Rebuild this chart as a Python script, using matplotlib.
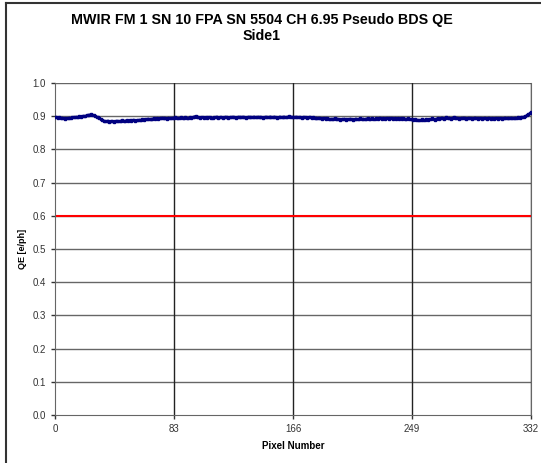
import numpy as np
import matplotlib.pyplot as plt
from matplotlib.lines import Line2D

plt.rcParams['font.family'] = ['Liberation Sans', 'DejaVu Sans']

# QE per pixel (pixels 0..332)
qe = [
    0.897, 0.898, 0.896, 0.897, 0.895, 0.896, 0.894, 0.893, 0.895, 0.894,
    0.896, 0.895, 0.897, 0.898, 0.897, 0.899, 0.898, 0.900, 0.899, 0.901,
    0.902, 0.901, 0.903, 0.904, 0.905, 0.906, 0.905, 0.904, 0.902, 0.899,
    0.897, 0.895, 0.891, 0.889, 0.887, 0.886, 0.885, 0.887, 0.884, 0.885,
    0.886, 0.884, 0.885, 0.887, 0.886, 0.885, 0.887, 0.888, 0.886, 0.887,
    0.888, 0.886, 0.889, 0.887, 0.888, 0.890, 0.887, 0.889, 0.888, 0.890,
    0.889, 0.891, 0.890, 0.892, 0.891, 0.893, 0.892, 0.891, 0.893, 0.894,
    0.892, 0.894, 0.893, 0.895, 0.894, 0.896, 0.894, 0.895, 0.893, 0.896,
    0.895, 0.894, 0.896, 0.895, 0.897, 0.896, 0.894, 0.896, 0.897, 0.895,
    0.896, 0.898, 0.896, 0.895, 0.897, 0.896, 0.898, 0.899, 0.901, 0.899,
    0.897, 0.896, 0.898, 0.897, 0.895, 0.897, 0.896, 0.898, 0.897, 0.895,
    0.896, 0.898, 0.897, 0.899, 0.896, 0.897, 0.898, 0.896, 0.897, 0.899,
    0.897, 0.896, 0.898, 0.897, 0.899, 0.898, 0.896, 0.897, 0.899, 0.898,
    0.897, 0.899, 0.898, 0.896, 0.897, 0.899, 0.898, 0.897, 0.898, 0.899,
    0.897, 0.898, 0.899, 0.897, 0.898, 0.896, 0.897, 0.899, 0.898, 0.897,
    0.899, 0.898, 0.897, 0.899, 0.898, 0.896, 0.898, 0.899, 0.897, 0.898,
    0.899, 0.897, 0.898, 0.900, 0.898, 0.899, 0.898, 0.897, 0.899, 0.898,
    0.897, 0.898, 0.896, 0.897, 0.898, 0.897, 0.896, 0.897, 0.898, 0.896,
    0.897, 0.895, 0.896, 0.894, 0.896, 0.895, 0.893, 0.895, 0.894, 0.892,
    0.894, 0.893, 0.891, 0.893, 0.892, 0.894, 0.891, 0.893, 0.892, 0.890,
    0.892, 0.891, 0.893, 0.890, 0.892, 0.891, 0.893, 0.892, 0.890, 0.892,
    0.893, 0.891, 0.892, 0.894, 0.892, 0.893, 0.891, 0.893, 0.894, 0.892,
    0.893, 0.895, 0.893, 0.892, 0.894, 0.893, 0.895, 0.894, 0.892, 0.894,
    0.893, 0.895, 0.894, 0.893, 0.895, 0.894, 0.892, 0.894, 0.893, 0.894,
    0.892, 0.894, 0.893, 0.895, 0.893, 0.892, 0.894, 0.893, 0.891, 0.892,
    0.890, 0.891, 0.889, 0.890, 0.888, 0.889, 0.891, 0.889, 0.890, 0.892,
    0.890, 0.892, 0.891, 0.894, 0.892, 0.890, 0.893, 0.895, 0.892, 0.894,
    0.896, 0.893, 0.895, 0.897, 0.894, 0.896, 0.893, 0.895, 0.897, 0.894,
    0.896, 0.895, 0.893, 0.895, 0.894, 0.896, 0.895, 0.893, 0.895, 0.894,
    0.895, 0.893, 0.894, 0.896, 0.894, 0.893, 0.895, 0.894, 0.893, 0.895,
    0.894, 0.893, 0.895, 0.894, 0.892, 0.894, 0.893, 0.895, 0.894, 0.893,
    0.894, 0.895, 0.893, 0.894, 0.896, 0.894, 0.895, 0.894, 0.896, 0.895,
    0.894, 0.896, 0.895, 0.897, 0.896, 0.898, 0.897, 0.899, 0.901, 0.903,
    0.906, 0.909, 0.912,
]
pixels = np.arange(len(qe))
limit = 0.6
xticks = [0, 83, 166, 249, 332]
yticks = np.round(np.arange(0, 1.01, 0.1), 1)

fig = plt.figure(figsize=(5.41, 4.63), dpi=100)
ax = fig.add_axes([55/541, 1 - 415/463, 476/541, 332/463])

# frame around the chart (only left and top edges are visible)
fig.add_artist(Line2D([6/541, 6/541], [0, 1 - 3/463], color='#333333', lw=1.5))
fig.add_artist(Line2D([6/541, 1], [1 - 3/463, 1 - 3/463], color='#333333', lw=1.5))

for y in yticks[1:]:
    ax.axhline(y, color='#666666', lw=1.0, zorder=1)
for x in xticks[1:]:
    ax.axvline(x, color='#222222', lw=1.0, zorder=1)

ax.axhline(limit, color='red', lw=1.5, zorder=2)
ax.plot(pixels, qe, color='#000080', lw=1.2, marker='s', ms=1.8, zorder=3)

ax.set_xlim(0, 332)
ax.set_ylim(0, 1.0)
ax.set_xticks(xticks)
ax.set_yticks(yticks)
ax.set_yticklabels([f'{v:.1f}' for v in yticks])
ax.tick_params(labelsize=7, colors='#333333', length=3, width=1)
ax.spines['top'].set_visible(False)
for s in ['left', 'bottom', 'right']:
    ax.spines[s].set_color('#666666')

ax.set_xlabel('Pixel Number', fontsize=7, fontweight='bold', labelpad=5)
ax.set_ylabel('QE [e/ph]', fontsize=6.5, fontweight='bold', labelpad=4)
fig.text(262/541, 1 - 28/463, 'MWIR FM 1 SN 10 FPA SN 5504 CH 6.95 Pseudo BDS QE\nSide1',
         ha='center', va='center', fontsize=10.3, fontweight='bold', linespacing=1.25)

fig.savefig('out.png', dpi=100)
